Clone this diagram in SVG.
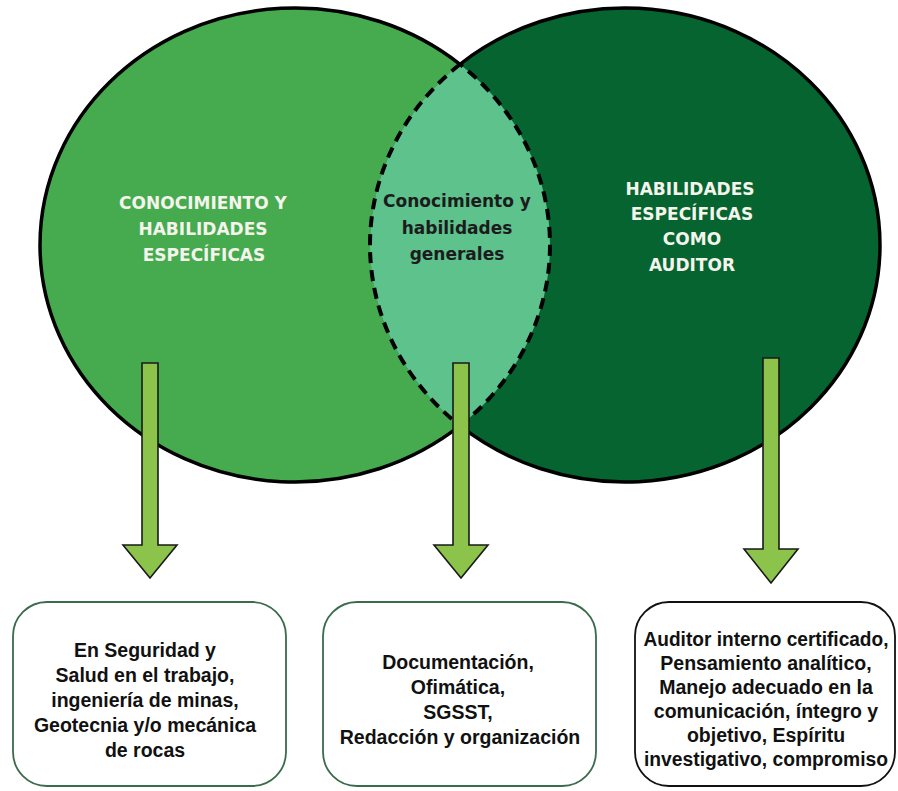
<svg xmlns="http://www.w3.org/2000/svg" width="898" height="791" viewBox="0 0 898 791">
<style>
.outline{fill:none;stroke:#000;stroke-width:3.5}
.dash{fill:none;stroke:#000;stroke-width:4;stroke-dasharray:11 7}
.ct{font-family:"DejaVu Sans","Liberation Sans",sans-serif;font-weight:bold;font-size:17px;text-anchor:middle}
.bt{font-family:"Liberation Sans",Arial,sans-serif;font-weight:bold;font-size:19.5px;text-anchor:middle;fill:#111}
.arrow{fill:#8CC34B;stroke:#1a1a1a;stroke-width:1.6;stroke-linejoin:miter}
.box{fill:#fff;stroke-width:1.8}
</style>
<rect width="898" height="791" fill="#fff"/>
<g id="venn">
  <ellipse id="left-fill" cx="295" cy="245" rx="255" ry="237" fill="#46AB4E"/>
  <ellipse id="right-fill" cx="625" cy="245" rx="255" ry="237" fill="#066430"/>
  <path id="lens-fill" d="M460,64.3 A255,237 0 0,0 460,425.7 A255,237 0 0,0 460,64.3 Z" fill="#5DC28C"/>
  <path class="outline" d="M460,64.3 A255,237 0 1,0 460,425.7"/>
  <path class="outline" d="M460,64.3 A255,237 0 1,1 460,425.7"/>
  <path class="dash" d="M460,64.3 A255,237 0 0,0 460,425.7"/>
  <path class="dash" d="M460,425.7 A255,237 0 0,0 460,64.3"/>
</g>
<g id="node-left-circle">
  <text class="ct" fill="#F4F4EC" x="203" y="209">CONOCIMIENTO Y</text>
  <text class="ct" fill="#F4F4EC" x="203" y="235">HABILIDADES</text>
  <text class="ct" fill="#F4F4EC" x="204" y="261">ESPECÍFICAS</text>
</g>
<g id="node-intersection">
  <text class="ct" fill="#1c1c1c" x="457" y="207">Conocimiento y</text>
  <text class="ct" fill="#1c1c1c" x="457" y="234">habilidades</text>
  <text class="ct" fill="#1c1c1c" x="457" y="260">generales</text>
</g>
<g id="node-right-circle">
  <text class="ct" fill="#F4F4EC" x="690" y="195">HABILIDADES</text>
  <text class="ct" fill="#F4F4EC" x="692" y="220">ESPECÍFICAS</text>
  <text class="ct" fill="#F4F4EC" x="692" y="245">COMO</text>
  <text class="ct" fill="#F4F4EC" x="692" y="271">AUDITOR</text>
</g>
<g id="connectors">
  <polygon class="arrow" points="142,363 158,363 158,545 177,545 150,578 123,545 142,545"/>
  <polygon class="arrow" points="453,363 469,363 469,545 488,545 461,578 434,545 453,545"/>
  <polygon class="arrow" points="763,358 779,358 779,549 798,549 771,583 744,549 763,549"/>
</g>
<g id="node-box-1">
  <rect class="box" x="13" y="602" width="273" height="184" rx="34" stroke="#3A6B4C"/>
  <text class="bt" x="145" y="657">En Seguridad y</text>
  <text class="bt" x="145" y="682">Salud en el trabajo,</text>
  <text class="bt" x="145" y="707">ingeniería de minas,</text>
  <text class="bt" x="145" y="732">Geotecnia y/o mecánica</text>
  <text class="bt" x="145" y="757">de rocas</text>
</g>
<g id="node-box-2">
  <rect class="box" x="323" y="602" width="273" height="184" rx="34" stroke="#3A6B4C"/>
  <text class="bt" x="458" y="669">Documentación,</text>
  <text class="bt" x="458" y="694">Ofimática,</text>
  <text class="bt" x="458" y="719">SGSST,</text>
  <text class="bt" x="460" y="744">Redacción y organización</text>
</g>
<g id="node-box-3">
  <rect class="box" x="635" y="602" width="260" height="184" rx="34" stroke="#111"/>
  <text class="bt" x="766" y="646" textLength="245" lengthAdjust="spacingAndGlyphs">Auditor interno certificado,</text>
  <text class="bt" x="766" y="670">Pensamiento analítico,</text>
  <text class="bt" x="766" y="694">Manejo adecuado en la</text>
  <text class="bt" x="766" y="718">comunicación, íntegro y</text>
  <text class="bt" x="766" y="742">objetivo, Espíritu</text>
  <text class="bt" x="766" y="766" textLength="244" lengthAdjust="spacingAndGlyphs">investigativo, compromiso</text>
</g>
</svg>
